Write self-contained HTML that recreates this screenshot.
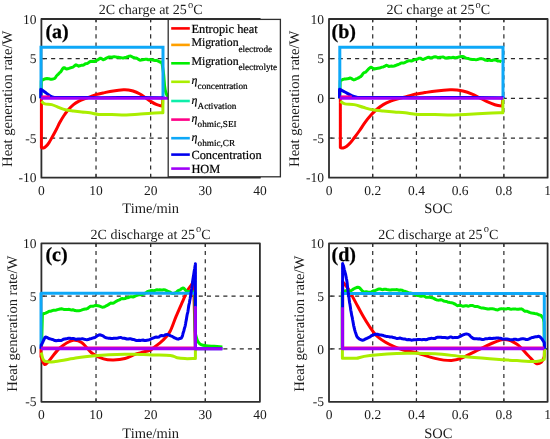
<!DOCTYPE html>
<html><head><meta charset="utf-8"><style>
html,body{margin:0;padding:0;background:#fff;}
svg{display:block;will-change:transform;}
.lg text{fill:#000;stroke:#000;stroke-width:0.2;}
text{font-family:"Liberation Serif", serif;fill:#1c1c1c;text-rendering:geometricPrecision;}
</style></head><body>
<svg width="550" height="439" viewBox="0 0 550 439">
<defs><filter id="bl" x="0" y="0" width="100%" height="100%"><feGaussianBlur stdDeviation="0.35"/></filter></defs>
<g filter="url(#bl)">
<rect width="550" height="439" fill="#fff"/>
<line x1="96.02499999999999" y1="19" x2="96.02499999999999" y2="177.7" stroke="#2a2a2a" stroke-width="1.2" stroke-dasharray="4.1 4.1" stroke-dashoffset="1.1"/>
<line x1="150.64999999999998" y1="19" x2="150.64999999999998" y2="177.7" stroke="#2a2a2a" stroke-width="1.2" stroke-dasharray="4.1 4.1" stroke-dashoffset="1.1"/>
<line x1="205.27499999999998" y1="19" x2="205.27499999999998" y2="177.7" stroke="#2a2a2a" stroke-width="1.2" stroke-dasharray="4.1 4.1" stroke-dashoffset="1.1"/>
<line x1="41.4" y1="58.675" x2="259.9" y2="58.675" stroke="#2a2a2a" stroke-width="1.2" stroke-dasharray="4.1 4.1" stroke-dashoffset="6.7"/>
<line x1="41.4" y1="98.35" x2="259.9" y2="98.35" stroke="#2a2a2a" stroke-width="1.2" stroke-dasharray="4.1 4.1" stroke-dashoffset="6.7"/>
<line x1="41.4" y1="138.02499999999998" x2="259.9" y2="138.02499999999998" stroke="#2a2a2a" stroke-width="1.2" stroke-dasharray="4.1 4.1" stroke-dashoffset="6.7"/>
<line x1="96.02499999999999" y1="177.7" x2="96.02499999999999" y2="174.2" stroke="#2e2e2e" stroke-width="1"/>
<line x1="96.02499999999999" y1="19" x2="96.02499999999999" y2="22.5" stroke="#2e2e2e" stroke-width="1"/>
<line x1="150.64999999999998" y1="177.7" x2="150.64999999999998" y2="174.2" stroke="#2e2e2e" stroke-width="1"/>
<line x1="150.64999999999998" y1="19" x2="150.64999999999998" y2="22.5" stroke="#2e2e2e" stroke-width="1"/>
<line x1="205.27499999999998" y1="177.7" x2="205.27499999999998" y2="174.2" stroke="#2e2e2e" stroke-width="1"/>
<line x1="205.27499999999998" y1="19" x2="205.27499999999998" y2="22.5" stroke="#2e2e2e" stroke-width="1"/>
<line x1="41.4" y1="58.675" x2="44.9" y2="58.675" stroke="#2e2e2e" stroke-width="1"/>
<line x1="259.9" y1="58.675" x2="256.4" y2="58.675" stroke="#2e2e2e" stroke-width="1"/>
<line x1="41.4" y1="98.35" x2="44.9" y2="98.35" stroke="#2e2e2e" stroke-width="1"/>
<line x1="259.9" y1="98.35" x2="256.4" y2="98.35" stroke="#2e2e2e" stroke-width="1"/>
<line x1="41.4" y1="138.02499999999998" x2="44.9" y2="138.02499999999998" stroke="#2e2e2e" stroke-width="1"/>
<line x1="259.9" y1="138.02499999999998" x2="256.4" y2="138.02499999999998" stroke="#2e2e2e" stroke-width="1"/>
<text x="41.4" y="195.29999999999998" text-anchor="middle" font-size="13.5">0</text>
<text x="96.02499999999999" y="195.29999999999998" text-anchor="middle" font-size="13.5">10</text>
<text x="150.64999999999998" y="195.29999999999998" text-anchor="middle" font-size="13.5">20</text>
<text x="205.27499999999998" y="195.29999999999998" text-anchor="middle" font-size="13.5">30</text>
<text x="259.9" y="195.29999999999998" text-anchor="middle" font-size="13.5">40</text>
<text x="36.4" y="23.6" text-anchor="end" font-size="13.5">10</text>
<text x="36.4" y="63.275" text-anchor="end" font-size="13.5">5</text>
<text x="36.4" y="102.94999999999999" text-anchor="end" font-size="13.5">0</text>
<text x="36.4" y="142.62499999999997" text-anchor="end" font-size="13.5">-5</text>
<text x="36.4" y="182.29999999999998" text-anchor="end" font-size="13.5">-10</text>
<text x="150.64999999999998" y="14.2" text-anchor="middle" font-size="14">2C charge at 25<tspan dx="1.2" dy="-6.3" font-size="10.5">o</tspan><tspan dy="6.3">C</tspan></text>
<text x="150.64999999999998" y="213.39999999999998" text-anchor="middle" font-size="14.5">Time/min</text>
<text transform="translate(11.5,98.85) rotate(-90)" x="0" y="0" text-anchor="middle" font-size="14.6">Heat generation rate/W</text>
<text x="45.4" y="38.0" font-size="20" font-weight="bold" style="fill:#000;stroke:#000;stroke-width:0.25">(a)</text>
<rect x="41.4" y="19" width="218.49999999999997" height="158.7" fill="none" stroke="#2e2e2e" stroke-width="1.8" stroke-linejoin="round"/>
<path d="M41.40,98.20 L41.40,147.60 L41.40,147.60 C41.75,147.67 42.70,148.23 43.50,148.00 C44.30,147.77 45.30,147.07 46.20,146.20 C47.10,145.33 47.98,144.17 48.90,142.80 C49.82,141.43 50.55,140.05 51.70,138.00 C52.85,135.95 54.43,133.12 55.80,130.50 C57.17,127.88 58.53,124.80 59.90,122.30 C61.27,119.80 62.63,117.55 64.00,115.50 C65.37,113.45 66.52,111.82 68.10,110.00 C69.68,108.18 71.68,106.07 73.50,104.60 C75.32,103.13 76.95,102.23 79.00,101.20 C81.05,100.17 83.97,99.12 85.80,98.40 C87.63,97.68 88.33,97.53 90.00,96.90 C91.67,96.27 93.38,95.32 95.80,94.60 C98.22,93.88 101.58,93.22 104.50,92.60 C107.42,91.98 110.13,91.37 113.30,90.90 C116.47,90.43 120.97,89.95 123.50,89.80 C126.03,89.65 126.92,89.80 128.50,90.00 C130.08,90.20 131.17,90.37 133.00,91.00 C134.83,91.63 137.45,92.70 139.50,93.80 C141.55,94.90 143.37,96.30 145.30,97.60 C147.23,98.90 149.17,100.42 151.10,101.60 C153.03,102.78 155.20,103.98 156.90,104.70 C158.60,105.42 160.57,105.70 161.30,105.90 L161.30,105.90 L162.50,106.00 L162.70,98.20" fill="none" stroke="#ff0000" stroke-width="3.0" stroke-linejoin="round" stroke-linecap="butt" />
<path d="M41.00,98.20 L41.30,81.00 L41.30,81.00 L41.30,80.77 L42.20,80.28 L43.71,79.35 L45.50,78.76 L47.13,78.52 L48.70,78.64 L50.13,79.23 L51.50,79.25 L52.82,78.99 L54.20,78.66 L54.97,78.12 L55.78,77.04 L56.63,75.74 L57.50,74.93 L58.43,74.08 L59.41,72.92 L60.38,72.18 L61.30,71.05 L62.45,68.98 L63.53,67.70 L64.50,67.72 L65.49,68.64 L66.70,69.06 L67.75,68.69 L69.01,68.40 L70.35,67.86 L71.60,67.51 L72.77,67.17 L73.94,66.36 L75.03,65.38 L76.00,64.81 L77.32,65.40 L78.70,66.14 L79.81,65.75 L81.11,65.35 L82.44,65.30 L83.60,64.97 L84.78,64.17 L85.78,63.63 L86.90,63.56 L88.29,62.92 L89.80,61.73 L91.30,61.28 L92.72,61.42 L94.13,61.47 L95.60,61.05 L96.83,60.30 L98.15,59.62 L99.42,58.81 L100.50,58.14 L101.82,58.82 L103.20,59.74 L104.29,59.43 L105.56,58.65 L106.99,57.78 L108.60,57.01 L109.85,57.01 L111.28,57.28 L112.78,56.95 L114.27,56.64 L115.64,56.89 L116.80,57.18 L118.42,57.33 L119.58,57.49 L120.90,57.69 L122.18,57.89 L123.57,57.92 L125.00,57.58 L126.40,57.21 L127.79,56.79 L129.19,56.13 L130.54,56.00 L131.80,56.70 L133.26,57.46 L134.58,57.82 L135.90,58.00 L137.17,58.41 L138.43,59.35 L140.00,60.16 L141.21,60.09 L142.59,59.83 L144.04,59.58 L145.48,59.16 L146.80,59.30 L148.27,59.77 L149.64,59.79 L150.96,59.67 L152.30,59.80 L153.69,60.31 L155.09,60.53 L156.44,60.37 L157.70,60.88 L159.31,61.73 L160.79,62.24 L161.80,62.00 L161.80,62.00 C162.10,64.00 163.13,70.00 163.60,74.00 C164.07,78.00 164.20,82.83 164.60,86.00 C165.00,89.17 165.43,91.25 166.00,93.00 C166.57,94.75 167.33,95.70 168.00,96.50 C168.67,97.30 169.67,97.58 170.00,97.80" fill="none" stroke="#00ee00" stroke-width="3.0" stroke-linejoin="round" stroke-linecap="butt" />
<path d="M41.40,101.20 C41.97,101.65 43.08,103.33 44.80,103.90 C46.52,104.47 49.42,104.03 51.70,104.60 C53.98,105.17 56.23,106.43 58.50,107.30 C60.77,108.17 62.80,109.17 65.30,109.80 C67.80,110.43 70.77,110.72 73.50,111.10 C76.23,111.48 78.97,111.82 81.70,112.10 C84.43,112.38 87.07,112.42 89.90,112.80 C92.73,113.18 95.05,114.10 98.70,114.40 C102.35,114.70 107.18,114.52 111.80,114.60 C116.42,114.68 122.03,114.97 126.40,114.90 C130.77,114.83 133.88,114.48 138.00,114.20 C142.12,113.92 147.10,113.45 151.10,113.20 C155.10,112.95 160.18,112.78 162.00,112.70 L162.00,112.70 L162.90,112.70 L162.90,98.20" fill="none" stroke="#aaee00" stroke-width="3.0" stroke-linejoin="round" stroke-linecap="butt" />
<path d="M41.00,98.20 L41.00,47.30 L163.00,47.30 L163.00,98.20" fill="none" stroke="#10a8f8" stroke-width="3.0" stroke-linejoin="round" stroke-linecap="butt" stroke-miterlimit="10" style="stroke-linejoin:miter"/>
<path d="M40.80,98.20 L40.80,89.20 L40.80,89.20 C41.47,89.67 43.22,90.87 44.80,92.00 C46.38,93.13 48.70,95.10 50.30,96.00 C51.90,96.90 52.78,97.13 54.40,97.40 C56.02,97.67 55.73,97.58 60.00,97.60 C64.27,97.62 73.33,97.48 80.00,97.50 C86.67,97.52 91.67,97.70 100.00,97.70 C108.33,97.70 120.00,97.50 130.00,97.50 C140.00,97.50 154.50,97.65 160.00,97.70 C165.50,97.75 162.50,97.78 163.00,97.80" fill="none" stroke="#0000ee" stroke-width="3.0" stroke-linejoin="round" stroke-linecap="butt" />
<path d="M41.50,96.60 L50.00,96.60" fill="none" stroke="#ff0088" stroke-width="2.4" stroke-linejoin="round" stroke-linecap="butt" />
<path d="M41.00,98.20 L169.00,98.20" fill="none" stroke="#a000f8" stroke-width="3" stroke-linejoin="round" stroke-linecap="butt" />
<line x1="372.72" y1="19" x2="372.72" y2="177.7" stroke="#2a2a2a" stroke-width="1.2" stroke-dasharray="4.1 4.1" stroke-dashoffset="1.1"/>
<line x1="416.44" y1="19" x2="416.44" y2="177.7" stroke="#2a2a2a" stroke-width="1.2" stroke-dasharray="4.1 4.1" stroke-dashoffset="1.1"/>
<line x1="460.16" y1="19" x2="460.16" y2="177.7" stroke="#2a2a2a" stroke-width="1.2" stroke-dasharray="4.1 4.1" stroke-dashoffset="1.1"/>
<line x1="503.88" y1="19" x2="503.88" y2="177.7" stroke="#2a2a2a" stroke-width="1.2" stroke-dasharray="4.1 4.1" stroke-dashoffset="1.1"/>
<line x1="329.0" y1="58.675" x2="547.6" y2="58.675" stroke="#2a2a2a" stroke-width="1.2" stroke-dasharray="4.1 4.1" stroke-dashoffset="6.7"/>
<line x1="329.0" y1="98.35" x2="547.6" y2="98.35" stroke="#2a2a2a" stroke-width="1.2" stroke-dasharray="4.1 4.1" stroke-dashoffset="6.7"/>
<line x1="329.0" y1="138.02499999999998" x2="547.6" y2="138.02499999999998" stroke="#2a2a2a" stroke-width="1.2" stroke-dasharray="4.1 4.1" stroke-dashoffset="6.7"/>
<line x1="372.72" y1="177.7" x2="372.72" y2="174.2" stroke="#2e2e2e" stroke-width="1"/>
<line x1="372.72" y1="19" x2="372.72" y2="22.5" stroke="#2e2e2e" stroke-width="1"/>
<line x1="416.44" y1="177.7" x2="416.44" y2="174.2" stroke="#2e2e2e" stroke-width="1"/>
<line x1="416.44" y1="19" x2="416.44" y2="22.5" stroke="#2e2e2e" stroke-width="1"/>
<line x1="460.16" y1="177.7" x2="460.16" y2="174.2" stroke="#2e2e2e" stroke-width="1"/>
<line x1="460.16" y1="19" x2="460.16" y2="22.5" stroke="#2e2e2e" stroke-width="1"/>
<line x1="503.88" y1="177.7" x2="503.88" y2="174.2" stroke="#2e2e2e" stroke-width="1"/>
<line x1="503.88" y1="19" x2="503.88" y2="22.5" stroke="#2e2e2e" stroke-width="1"/>
<line x1="329.0" y1="58.675" x2="332.5" y2="58.675" stroke="#2e2e2e" stroke-width="1"/>
<line x1="547.6" y1="58.675" x2="544.1" y2="58.675" stroke="#2e2e2e" stroke-width="1"/>
<line x1="329.0" y1="98.35" x2="332.5" y2="98.35" stroke="#2e2e2e" stroke-width="1"/>
<line x1="547.6" y1="98.35" x2="544.1" y2="98.35" stroke="#2e2e2e" stroke-width="1"/>
<line x1="329.0" y1="138.02499999999998" x2="332.5" y2="138.02499999999998" stroke="#2e2e2e" stroke-width="1"/>
<line x1="547.6" y1="138.02499999999998" x2="544.1" y2="138.02499999999998" stroke="#2e2e2e" stroke-width="1"/>
<text x="329.0" y="195.29999999999998" text-anchor="middle" font-size="13.5">0</text>
<text x="372.72" y="195.29999999999998" text-anchor="middle" font-size="13.5">0.2</text>
<text x="416.44" y="195.29999999999998" text-anchor="middle" font-size="13.5">0.4</text>
<text x="460.16" y="195.29999999999998" text-anchor="middle" font-size="13.5">0.6</text>
<text x="503.88" y="195.29999999999998" text-anchor="middle" font-size="13.5">0.8</text>
<text x="547.6" y="195.29999999999998" text-anchor="middle" font-size="13.5">1</text>
<text x="324.0" y="23.6" text-anchor="end" font-size="13.5">10</text>
<text x="324.0" y="63.275" text-anchor="end" font-size="13.5">5</text>
<text x="324.0" y="102.94999999999999" text-anchor="end" font-size="13.5">0</text>
<text x="324.0" y="142.62499999999997" text-anchor="end" font-size="13.5">-5</text>
<text x="324.0" y="182.29999999999998" text-anchor="end" font-size="13.5">-10</text>
<text x="438.3" y="14.2" text-anchor="middle" font-size="14">2C charge at 25<tspan dx="1.2" dy="-6.3" font-size="10.5">o</tspan><tspan dy="6.3">C</tspan></text>
<text x="438.3" y="213.39999999999998" text-anchor="middle" font-size="14.5">SOC</text>
<text transform="translate(299.1,98.85) rotate(-90)" x="0" y="0" text-anchor="middle" font-size="14.6">Heat generation rate/W</text>
<text x="331.5" y="38.0" font-size="20" font-weight="bold" style="fill:#000;stroke:#000;stroke-width:0.25">(b)</text>
<rect x="329.0" y="19" width="218.60000000000002" height="158.7" fill="none" stroke="#2e2e2e" stroke-width="1.8" stroke-linejoin="round"/>
<path d="M340.34,98.20 L340.34,147.60 L340.34,147.60 C340.80,147.67 342.07,148.23 343.14,148.00 C344.21,147.77 345.55,147.07 346.76,146.20 C347.96,145.33 349.14,144.17 350.37,142.80 C351.59,141.43 352.58,140.05 354.11,138.00 C355.65,135.95 357.77,133.12 359.60,130.50 C361.43,127.88 363.25,124.80 365.08,122.30 C366.91,119.80 368.74,117.55 370.57,115.50 C372.40,113.45 373.93,111.82 376.05,110.00 C378.17,108.18 380.85,106.07 383.28,104.60 C385.71,103.13 387.89,102.23 390.63,101.20 C393.38,100.17 397.28,99.12 399.73,98.40 C402.18,97.68 403.12,97.53 405.35,96.90 C407.58,96.27 409.87,95.32 413.11,94.60 C416.34,93.88 420.84,93.22 424.74,92.60 C428.65,91.98 432.28,91.37 436.52,90.90 C440.75,90.43 446.77,89.95 450.16,89.80 C453.55,89.65 454.73,89.80 456.85,90.00 C458.97,90.20 460.42,90.37 462.87,91.00 C465.32,91.63 468.82,92.70 471.56,93.80 C474.31,94.90 476.74,96.30 479.32,97.60 C481.91,98.90 484.50,100.42 487.08,101.60 C489.67,102.78 492.57,103.98 494.84,104.70 C497.11,105.42 499.74,105.70 500.73,105.90 L500.73,105.90 L502.33,106.00 L502.60,98.20" fill="none" stroke="#ff0000" stroke-width="3.0" stroke-linejoin="round" stroke-linecap="butt" />
<path d="M339.80,98.20 L340.20,81.00 L340.20,81.00 L340.20,80.77 L341.41,80.28 L342.64,79.55 L344.24,79.11 L345.82,78.92 L347.28,78.87 L348.72,78.56 L350.10,77.95 L351.39,78.33 L352.63,79.44 L353.85,79.91 L355.03,79.58 L356.20,78.88 L357.46,78.43 L358.49,77.97 L359.57,77.11 L360.70,76.55 L361.87,75.45 L362.86,73.80 L363.90,72.72 L364.95,72.42 L365.98,71.87 L366.96,70.66 L368.11,69.40 L369.23,68.43 L370.28,67.52 L371.24,67.21 L372.57,68.10 L374.18,68.95 L375.27,68.70 L376.57,68.43 L377.99,68.28 L379.41,68.10 L380.73,67.58 L381.99,67.13 L383.25,66.97 L384.46,66.45 L385.60,65.63 L386.62,65.30 L387.88,65.95 L388.89,66.47 L390.23,66.15 L391.39,66.02 L392.74,66.14 L394.18,65.99 L395.57,65.53 L396.79,64.97 L398.36,64.50 L399.70,63.84 L401.20,63.04 L402.29,62.93 L403.46,62.97 L404.67,62.58 L405.89,61.98 L407.09,61.37 L408.52,60.77 L409.92,60.79 L411.35,61.03 L412.84,60.51 L414.15,59.85 L415.54,59.57 L416.94,59.27 L418.26,58.68 L419.39,58.14 L420.68,58.27 L421.64,59.05 L423.01,59.46 L423.96,59.16 L425.01,58.70 L426.16,58.18 L427.41,57.45 L428.77,57.22 L430.23,57.70 L431.31,57.95 L432.52,57.52 L433.81,56.96 L435.15,56.73 L436.49,57.07 L437.81,57.50 L439.06,57.39 L440.20,57.21 L441.20,57.12 L442.91,56.98 L444.17,57.44 L445.31,58.09 L446.68,58.06 L447.80,57.70 L449.00,57.54 L450.25,57.80 L451.53,57.75 L452.80,57.31 L454.04,57.48 L455.27,57.74 L456.52,57.56 L457.77,57.29 L458.99,56.99 L460.16,56.68 L461.26,56.53 L462.76,56.52 L464.11,56.95 L465.42,57.90 L466.75,58.29 L468.03,58.38 L469.26,58.89 L470.61,59.31 L472.23,59.40 L473.36,59.44 L474.62,59.60 L475.97,59.67 L477.36,59.52 L478.75,59.08 L480.09,58.64 L481.33,58.60 L482.66,58.89 L483.92,59.47 L485.12,60.03 L486.31,60.26 L487.49,60.40 L488.69,60.31 L489.92,60.19 L491.17,60.49 L492.42,60.44 L493.64,59.91 L494.81,59.71 L495.91,60.16 L497.53,60.91 L499.10,61.11 L500.45,61.34 L501.39,62.00" fill="none" stroke="#00ee00" stroke-width="3.0" stroke-linejoin="round" stroke-linecap="butt" />
<path d="M340.34,101.20 C341.09,101.65 342.59,103.33 344.88,103.90 C347.18,104.47 351.06,104.03 354.11,104.60 C357.17,105.17 360.18,106.43 363.21,107.30 C366.24,108.17 368.96,109.17 372.31,109.80 C375.65,110.43 379.62,110.72 383.28,111.10 C386.93,111.48 390.59,111.82 394.24,112.10 C397.90,112.38 401.42,112.42 405.21,112.80 C409.00,113.18 412.10,114.10 416.99,114.40 C421.87,114.70 428.33,114.52 434.51,114.60 C440.69,114.68 448.20,114.97 454.04,114.90 C459.88,114.83 464.05,114.48 469.56,114.20 C475.06,113.92 481.73,113.45 487.08,113.20 C492.43,112.95 499.23,112.78 501.66,112.70 L501.66,112.70 L502.87,112.70 L502.87,98.20" fill="none" stroke="#aaee00" stroke-width="3.0" stroke-linejoin="round" stroke-linecap="butt" />
<path d="M339.80,98.20 L339.80,47.30 L503.00,47.30 L503.00,98.20" fill="none" stroke="#10a8f8" stroke-width="3.0" stroke-linejoin="round" stroke-linecap="butt" stroke-miterlimit="10" style="stroke-linejoin:miter"/>
<path d="M339.53,98.20 L339.53,89.20 L339.53,89.20 C340.42,89.67 342.77,90.87 344.88,92.00 C347.00,93.13 350.10,95.10 352.24,96.00 C354.38,96.90 355.56,97.13 357.73,97.40 C359.89,97.67 359.51,97.58 365.22,97.60 C370.92,97.62 383.05,97.48 391.97,97.50 C400.89,97.52 407.58,97.70 418.72,97.70 C429.87,97.70 445.48,97.50 458.86,97.50 C472.23,97.50 491.63,97.65 498.99,97.70 C506.34,97.75 502.33,97.78 503.00,97.80" fill="none" stroke="#0000ee" stroke-width="3.0" stroke-linejoin="round" stroke-linecap="butt" />
<path d="M340.47,96.60 L351.84,96.60" fill="none" stroke="#ff0088" stroke-width="2.4" stroke-linejoin="round" stroke-linecap="butt" />
<path d="M339.80,98.20 L503.00,98.20" fill="none" stroke="#a000f8" stroke-width="3" stroke-linejoin="round" stroke-linecap="butt" />
<line x1="96.02499999999999" y1="243.3" x2="96.02499999999999" y2="401.8" stroke="#2a2a2a" stroke-width="1.2" stroke-dasharray="4.1 4.1" stroke-dashoffset="0.5"/>
<line x1="150.64999999999998" y1="243.3" x2="150.64999999999998" y2="401.8" stroke="#2a2a2a" stroke-width="1.2" stroke-dasharray="4.1 4.1" stroke-dashoffset="0.5"/>
<line x1="205.27499999999998" y1="243.3" x2="205.27499999999998" y2="401.8" stroke="#2a2a2a" stroke-width="1.2" stroke-dasharray="4.1 4.1" stroke-dashoffset="0.5"/>
<line x1="41.4" y1="296.1333333333333" x2="259.9" y2="296.1333333333333" stroke="#2a2a2a" stroke-width="1.2" stroke-dasharray="4.1 4.1" stroke-dashoffset="6.7"/>
<line x1="41.4" y1="348.9666666666667" x2="259.9" y2="348.9666666666667" stroke="#2a2a2a" stroke-width="1.2" stroke-dasharray="4.1 4.1" stroke-dashoffset="6.7"/>
<line x1="96.02499999999999" y1="401.8" x2="96.02499999999999" y2="398.3" stroke="#2e2e2e" stroke-width="1"/>
<line x1="96.02499999999999" y1="243.3" x2="96.02499999999999" y2="246.8" stroke="#2e2e2e" stroke-width="1"/>
<line x1="150.64999999999998" y1="401.8" x2="150.64999999999998" y2="398.3" stroke="#2e2e2e" stroke-width="1"/>
<line x1="150.64999999999998" y1="243.3" x2="150.64999999999998" y2="246.8" stroke="#2e2e2e" stroke-width="1"/>
<line x1="205.27499999999998" y1="401.8" x2="205.27499999999998" y2="398.3" stroke="#2e2e2e" stroke-width="1"/>
<line x1="205.27499999999998" y1="243.3" x2="205.27499999999998" y2="246.8" stroke="#2e2e2e" stroke-width="1"/>
<line x1="41.4" y1="296.1333333333333" x2="44.9" y2="296.1333333333333" stroke="#2e2e2e" stroke-width="1"/>
<line x1="259.9" y1="296.1333333333333" x2="256.4" y2="296.1333333333333" stroke="#2e2e2e" stroke-width="1"/>
<line x1="41.4" y1="348.9666666666667" x2="44.9" y2="348.9666666666667" stroke="#2e2e2e" stroke-width="1"/>
<line x1="259.9" y1="348.9666666666667" x2="256.4" y2="348.9666666666667" stroke="#2e2e2e" stroke-width="1"/>
<text x="41.4" y="419.40000000000003" text-anchor="middle" font-size="13.5">0</text>
<text x="96.02499999999999" y="419.40000000000003" text-anchor="middle" font-size="13.5">10</text>
<text x="150.64999999999998" y="419.40000000000003" text-anchor="middle" font-size="13.5">20</text>
<text x="205.27499999999998" y="419.40000000000003" text-anchor="middle" font-size="13.5">30</text>
<text x="259.9" y="419.40000000000003" text-anchor="middle" font-size="13.5">40</text>
<text x="36.4" y="247.9" text-anchor="end" font-size="13.5">10</text>
<text x="36.4" y="300.73333333333335" text-anchor="end" font-size="13.5">5</text>
<text x="36.4" y="353.5666666666667" text-anchor="end" font-size="13.5">0</text>
<text x="36.4" y="406.40000000000003" text-anchor="end" font-size="13.5">-5</text>
<text x="150.64999999999998" y="238.5" text-anchor="middle" font-size="14">2C discharge at 25<tspan dx="1.2" dy="-6.3" font-size="10.5">o</tspan><tspan dy="6.3">C</tspan></text>
<text x="150.64999999999998" y="437.5" text-anchor="middle" font-size="14.5">Time/min</text>
<text transform="translate(16.8,323.75) rotate(-90)" x="0" y="0" text-anchor="middle" font-size="14.6">Heat generation rate/W</text>
<text x="45.4" y="260.8" font-size="20" font-weight="bold" style="fill:#000;stroke:#000;stroke-width:0.25">(c)</text>
<rect x="41.4" y="243.3" width="218.49999999999997" height="158.5" fill="none" stroke="#2e2e2e" stroke-width="1.8" stroke-linejoin="round"/>
<path d="M41.00,348.80 L41.00,356.70 L41.00,356.70 C41.58,357.98 43.18,363.68 44.50,364.40 C45.82,365.12 46.35,363.73 48.90,361.00 C51.45,358.27 55.80,351.43 59.80,348.00 C63.80,344.57 69.27,341.32 72.90,340.40 C76.53,339.48 78.33,340.32 81.60,342.50 C84.87,344.68 88.85,350.77 92.50,353.50 C96.15,356.23 100.00,357.82 103.50,358.90 C107.00,359.98 109.92,360.07 113.50,360.00 C117.08,359.93 121.42,359.45 125.00,358.50 C128.58,357.55 132.33,355.28 135.00,354.30 C137.67,353.32 138.53,353.27 141.00,352.60 C143.47,351.93 147.77,351.07 149.80,350.30 C151.83,349.53 151.50,349.23 153.20,348.00 C154.90,346.77 157.90,344.70 160.00,342.90 C162.10,341.10 164.08,339.18 165.80,337.20 C167.52,335.22 168.58,334.47 170.30,331.00 C172.02,327.53 174.10,321.22 176.10,316.40 C178.10,311.58 180.42,306.37 182.30,302.10 C184.18,297.83 185.87,293.70 187.40,290.80 C188.93,287.90 190.47,286.42 191.50,284.70 C192.53,282.98 193.25,281.20 193.60,280.50 L193.60,280.50 L195.40,348.80" fill="none" stroke="#ff0000" stroke-width="3.0" stroke-linejoin="round" stroke-linecap="butt" />
<path d="M41.50,348.80 L42.40,314.20 L42.40,314.20 L43.19,313.78 L44.28,313.46 L45.60,313.13 L47.09,312.48 L48.70,311.45 L49.79,311.17 L50.98,311.22 L52.24,310.63 L53.56,310.26 L54.90,310.29 L56.26,309.96 L57.60,309.59 L58.90,309.29 L60.19,308.95 L61.52,308.76 L62.85,309.11 L64.18,309.46 L65.49,309.46 L66.75,309.59 L67.96,309.47 L69.10,309.30 L70.45,309.75 L71.64,310.01 L72.76,309.81 L73.87,310.03 L75.05,310.61 L76.40,310.74 L77.54,310.75 L78.76,310.75 L80.04,310.53 L81.36,310.12 L82.68,309.61 L84.00,309.25 L85.28,309.00 L86.50,308.94 L87.84,308.35 L89.16,307.15 L90.45,306.35 L91.71,306.27 L92.94,306.30 L94.14,305.90 L95.30,305.50 L96.61,305.42 L97.87,305.67 L99.08,306.03 L100.26,306.45 L101.39,306.91 L102.50,307.20 L103.76,307.06 L104.95,306.55 L106.10,305.93 L107.23,305.33 L108.40,304.68 L109.60,303.77 L110.81,303.10 L112.02,303.17 L113.22,303.18 L114.40,302.60 L115.53,301.86 L116.63,301.09 L117.72,300.44 L118.84,300.15 L120.00,299.62 L121.20,298.77 L122.42,298.46 L123.68,298.84 L125.00,298.62 L126.40,297.89 L127.65,297.69 L128.97,297.30 L130.34,296.71 L131.73,296.68 L133.12,296.94 L134.50,296.55 L135.68,295.80 L136.88,295.34 L138.09,295.03 L139.29,294.83 L140.47,294.65 L141.61,294.64 L142.70,294.41 L144.12,293.74 L145.46,293.13 L146.74,292.11 L148.01,291.36 L149.30,291.09 L150.60,290.61 L151.90,290.42 L153.20,290.63 L154.50,290.57 L155.80,290.03 L157.12,289.84 L158.44,289.97 L159.76,289.83 L161.08,289.93 L162.40,289.91 L163.73,289.65 L165.08,289.90 L166.42,290.52 L167.70,291.14 L168.90,291.58 L170.24,292.14 L171.45,292.98 L172.61,293.61 L173.80,293.47 L175.04,292.96 L176.30,292.22 L177.53,291.06 L178.70,290.42 L180.13,289.81 L181.46,288.72 L182.80,287.93 L183.81,288.15 L184.80,289.34 L185.82,290.49 L186.90,291.06 L188.12,291.57 L189.44,291.54 L190.71,291.16 L191.80,291.30 L193.46,291.81 L194.50,292.00 L194.50,292.00 C194.58,293.33 194.88,293.67 195.00,300.00 C195.12,306.33 194.93,323.67 195.20,330.00 C195.47,336.33 196.08,335.97 196.60,338.00 C197.12,340.03 197.57,341.10 198.30,342.20 C199.03,343.30 199.72,344.02 201.00,344.60 C202.28,345.18 203.83,345.42 206.00,345.70 C208.17,345.98 211.27,346.10 214.00,346.30 C216.73,346.50 221.00,346.80 222.40,346.90" fill="none" stroke="#00ee00" stroke-width="3.0" stroke-linejoin="round" stroke-linecap="butt" />
<path d="M41.30,352.40 C41.83,353.83 42.13,359.48 44.50,361.00 C46.87,362.52 50.03,362.03 55.50,361.50 C60.97,360.97 70.72,358.75 77.30,357.80 C83.88,356.85 89.72,356.30 95.00,355.80 C100.28,355.30 104.00,355.07 109.00,354.80 C114.00,354.53 120.67,354.30 125.00,354.20 C129.33,354.10 130.48,354.08 135.00,354.20 C139.52,354.32 146.22,354.70 152.10,354.90 C157.98,355.10 166.13,354.93 170.30,355.40 C174.47,355.87 174.65,357.17 177.10,357.70 C179.55,358.23 182.12,358.47 185.00,358.60 C187.88,358.73 192.83,358.52 194.40,358.50 L194.40,358.50 L195.40,358.50 L195.40,348.80" fill="none" stroke="#aaee00" stroke-width="3.0" stroke-linejoin="round" stroke-linecap="butt" />
<path d="M41.00,348.80 L41.00,293.30 L195.40,293.30 L195.40,348.80" fill="none" stroke="#10a8f8" stroke-width="3.0" stroke-linejoin="round" stroke-linecap="butt" />
<path d="M41.00,348.80 L41.30,344.70 L41.30,344.70 L41.68,344.33 L42.18,343.37 L42.78,342.10 L43.45,340.68 L44.16,339.05 L44.89,337.49 L45.60,337.06 L46.87,337.42 L48.21,338.13 L49.63,338.81 L51.10,339.12 L52.30,339.42 L53.52,339.98 L54.79,340.58 L56.14,340.78 L57.60,340.47 L58.68,340.30 L59.76,340.45 L60.87,340.61 L62.06,340.07 L63.35,339.33 L64.79,338.98 L66.40,338.66 L67.46,338.50 L68.61,338.17 L69.85,338.20 L71.15,338.62 L72.50,338.42 L73.87,338.49 L75.25,339.16 L76.61,339.18 L77.95,338.93 L79.24,339.11 L80.46,339.12 L81.60,338.84 L83.02,338.83 L84.37,339.22 L85.67,339.52 L86.91,339.70 L88.11,339.54 L89.26,339.02 L90.38,338.70 L91.45,338.45 L92.50,338.14 L93.77,337.74 L94.94,337.43 L96.03,336.80 L97.07,335.95 L98.10,335.47 L99.13,334.96 L100.20,334.80 L101.36,335.26 L102.37,335.63 L103.39,336.12 L104.54,337.07 L105.96,337.73 L107.80,338.11 L108.76,338.31 L109.85,338.26 L111.04,338.55 L112.31,338.60 L113.64,338.23 L115.02,338.33 L116.42,338.35 L117.83,338.05 L119.22,337.61 L120.58,337.41 L121.89,337.87 L123.12,338.27 L124.27,338.21 L125.30,338.49 L126.91,339.03 L128.37,339.03 L129.68,338.72 L130.89,338.77 L132.00,339.28 L133.04,339.52 L134.03,339.52 L135.00,339.98 L136.63,340.60 L137.89,340.51 L139.13,340.32 L140.70,340.41 L141.81,340.13 L143.02,340.04 L144.30,340.46 L145.64,340.48 L147.02,340.20 L148.41,340.09 L149.80,339.65 L151.04,338.97 L152.32,338.43 L153.64,337.84 L154.97,337.27 L156.29,337.07 L157.58,337.28 L158.82,337.02 L160.00,336.02 L161.51,335.55 L162.98,335.74 L164.39,335.33 L165.71,334.65 L166.92,334.42 L168.00,334.71 L169.61,335.30 L170.78,335.85 L172.00,336.31 L173.12,336.94 L174.31,337.80 L175.47,338.18 L176.50,338.74 L178.11,339.15 L179.50,338.52 L180.44,338.42 L181.36,338.02 L182.30,336.25 L182.62,335.09 L182.95,333.72 L183.28,332.49 L183.61,331.49 L183.95,330.46 L184.29,328.98 L184.62,327.69 L184.96,326.71 L185.30,325.36 L185.54,324.08 L185.77,322.55 L186.01,321.28 L186.25,320.19 L186.49,318.75 L186.72,317.25 L186.96,315.86 L187.20,314.47 L187.44,313.51 L187.68,312.82 L187.92,311.58 L188.16,309.86 L188.40,308.18 L188.61,306.69 L188.82,305.27 L189.04,304.32 L189.26,303.65 L189.47,302.46 L189.69,300.96 L189.91,299.83 L190.13,298.69 L190.34,297.33 L190.55,296.06 L190.75,294.71 L190.95,293.34 L191.14,292.09 L191.33,290.80 L191.50,289.81 L191.71,288.78 L191.90,287.35 L192.08,285.98 L192.25,285.01 L192.42,283.79 L192.57,282.15 L192.73,280.68 L192.88,279.63 L193.03,278.67 L193.19,277.71 L193.34,276.77 L193.50,275.83 L193.73,274.43 L193.97,272.77 L194.21,271.04 L194.46,269.65 L194.69,268.48 L194.91,267.07 L195.11,265.73 L195.27,264.98 L195.40,263.80 L195.40,263.80 L195.40,348.80 L222.40,348.80" fill="none" stroke="#0000ee" stroke-width="3.0" stroke-linejoin="round" stroke-linecap="butt" />
<path d="M41.50,347.80 L194.00,347.80" fill="none" stroke="#ff0088" stroke-width="2.4" stroke-linejoin="round" stroke-linecap="butt" />
<path d="M41.00,348.80 L195.40,348.80 L195.40,307.30 L195.40,348.80 L222.40,348.80" fill="none" stroke="#a000f8" stroke-width="3" stroke-linejoin="round" stroke-linecap="butt" />
<line x1="372.72" y1="243.3" x2="372.72" y2="401.8" stroke="#2a2a2a" stroke-width="1.2" stroke-dasharray="4.1 4.1" stroke-dashoffset="0.5"/>
<line x1="416.44" y1="243.3" x2="416.44" y2="401.8" stroke="#2a2a2a" stroke-width="1.2" stroke-dasharray="4.1 4.1" stroke-dashoffset="0.5"/>
<line x1="460.16" y1="243.3" x2="460.16" y2="401.8" stroke="#2a2a2a" stroke-width="1.2" stroke-dasharray="4.1 4.1" stroke-dashoffset="0.5"/>
<line x1="503.88" y1="243.3" x2="503.88" y2="401.8" stroke="#2a2a2a" stroke-width="1.2" stroke-dasharray="4.1 4.1" stroke-dashoffset="0.5"/>
<line x1="329.0" y1="296.1333333333333" x2="547.6" y2="296.1333333333333" stroke="#2a2a2a" stroke-width="1.2" stroke-dasharray="4.1 4.1" stroke-dashoffset="6.7"/>
<line x1="329.0" y1="348.9666666666667" x2="547.6" y2="348.9666666666667" stroke="#2a2a2a" stroke-width="1.2" stroke-dasharray="4.1 4.1" stroke-dashoffset="6.7"/>
<line x1="372.72" y1="401.8" x2="372.72" y2="398.3" stroke="#2e2e2e" stroke-width="1"/>
<line x1="372.72" y1="243.3" x2="372.72" y2="246.8" stroke="#2e2e2e" stroke-width="1"/>
<line x1="416.44" y1="401.8" x2="416.44" y2="398.3" stroke="#2e2e2e" stroke-width="1"/>
<line x1="416.44" y1="243.3" x2="416.44" y2="246.8" stroke="#2e2e2e" stroke-width="1"/>
<line x1="460.16" y1="401.8" x2="460.16" y2="398.3" stroke="#2e2e2e" stroke-width="1"/>
<line x1="460.16" y1="243.3" x2="460.16" y2="246.8" stroke="#2e2e2e" stroke-width="1"/>
<line x1="503.88" y1="401.8" x2="503.88" y2="398.3" stroke="#2e2e2e" stroke-width="1"/>
<line x1="503.88" y1="243.3" x2="503.88" y2="246.8" stroke="#2e2e2e" stroke-width="1"/>
<line x1="329.0" y1="296.1333333333333" x2="332.5" y2="296.1333333333333" stroke="#2e2e2e" stroke-width="1"/>
<line x1="547.6" y1="296.1333333333333" x2="544.1" y2="296.1333333333333" stroke="#2e2e2e" stroke-width="1"/>
<line x1="329.0" y1="348.9666666666667" x2="332.5" y2="348.9666666666667" stroke="#2e2e2e" stroke-width="1"/>
<line x1="547.6" y1="348.9666666666667" x2="544.1" y2="348.9666666666667" stroke="#2e2e2e" stroke-width="1"/>
<text x="329.0" y="419.40000000000003" text-anchor="middle" font-size="13.5">0</text>
<text x="372.72" y="419.40000000000003" text-anchor="middle" font-size="13.5">0.2</text>
<text x="416.44" y="419.40000000000003" text-anchor="middle" font-size="13.5">0.4</text>
<text x="460.16" y="419.40000000000003" text-anchor="middle" font-size="13.5">0.6</text>
<text x="503.88" y="419.40000000000003" text-anchor="middle" font-size="13.5">0.8</text>
<text x="547.6" y="419.40000000000003" text-anchor="middle" font-size="13.5">1</text>
<text x="324.0" y="247.9" text-anchor="end" font-size="13.5">10</text>
<text x="324.0" y="300.73333333333335" text-anchor="end" font-size="13.5">5</text>
<text x="324.0" y="353.5666666666667" text-anchor="end" font-size="13.5">0</text>
<text x="324.0" y="406.40000000000003" text-anchor="end" font-size="13.5">-5</text>
<text x="438.3" y="238.5" text-anchor="middle" font-size="14">2C discharge at 25<tspan dx="1.2" dy="-6.3" font-size="10.5">o</tspan><tspan dy="6.3">C</tspan></text>
<text x="438.3" y="437.5" text-anchor="middle" font-size="14.5">SOC</text>
<text transform="translate(304.40000000000003,323.75) rotate(-90)" x="0" y="0" text-anchor="middle" font-size="14.6">Heat generation rate/W</text>
<text x="331.5" y="260.8" font-size="20" font-weight="bold" style="fill:#000;stroke:#000;stroke-width:0.25">(d)</text>
<rect x="329.0" y="243.3" width="218.60000000000002" height="158.5" fill="none" stroke="#2e2e2e" stroke-width="1.8" stroke-linejoin="round"/>
<path d="M342.60,348.80 L342.60,281.60 L342.60,281.60 C343.62,282.93 346.55,286.18 348.70,289.60 C350.85,293.02 353.23,297.92 355.50,302.10 C357.77,306.28 360.02,310.72 362.30,314.70 C364.58,318.68 366.92,322.58 369.20,326.00 C371.48,329.42 373.35,332.53 376.00,335.20 C378.65,337.87 382.07,340.10 385.10,342.00 C388.13,343.90 391.17,345.27 394.20,346.60 C397.23,347.93 399.83,349.05 403.30,350.00 C406.77,350.95 409.72,350.90 415.00,352.30 C420.28,353.70 428.93,357.02 435.00,358.40 C441.07,359.78 446.85,360.68 451.40,360.60 C455.95,360.52 457.30,359.95 462.30,357.90 C467.30,355.85 474.57,351.35 481.40,348.30 C488.23,345.25 497.37,340.28 503.30,339.60 C509.23,338.92 512.90,341.60 517.00,344.20 C521.10,346.80 524.72,352.00 527.90,355.20 C531.08,358.40 533.83,362.27 536.10,363.40 C538.37,364.53 540.13,363.15 541.50,362.00 C542.87,360.85 543.83,357.42 544.30,356.50 L544.30,356.50 L544.50,348.80" fill="none" stroke="#ff0000" stroke-width="3.0" stroke-linejoin="round" stroke-linecap="butt" />
<path d="M342.20,348.80 L342.20,292.40 L342.20,292.40 L344.00,290.98 L344.90,290.91 L346.01,290.64 L347.27,290.44 L348.62,290.71 L350.00,290.97 L351.21,290.65 L352.50,289.73 L353.85,288.74 L355.21,288.09 L356.54,287.56 L357.80,287.23 L359.01,287.47 L360.19,288.48 L361.35,289.92 L362.47,290.99 L363.56,291.66 L364.60,291.87 L365.93,291.74 L367.06,291.85 L368.32,292.16 L370.00,292.23 L370.93,292.21 L371.95,291.66 L373.04,290.87 L374.19,290.65 L375.40,290.49 L376.65,289.87 L377.94,289.32 L379.26,289.01 L380.60,289.01 L381.74,289.50 L382.95,289.65 L384.21,289.23 L385.51,289.18 L386.83,289.53 L388.15,289.73 L389.46,289.94 L390.73,290.00 L391.96,289.74 L393.12,289.68 L394.20,289.82 L395.70,289.75 L397.02,289.59 L398.23,289.94 L399.38,290.25 L400.57,289.96 L401.85,290.12 L403.30,290.81 L404.33,291.14 L405.43,291.50 L406.58,291.86 L407.77,292.40 L408.98,292.98 L410.21,293.07 L411.43,293.23 L412.63,293.73 L413.81,294.24 L414.93,294.49 L416.00,294.88 L417.38,295.42 L418.69,295.62 L419.95,296.05 L421.17,296.34 L422.37,295.96 L423.56,295.85 L424.77,296.44 L426.00,297.17 L427.23,297.35 L428.44,297.22 L429.63,297.30 L430.83,297.56 L432.05,297.80 L433.31,298.10 L434.62,298.86 L436.00,299.65 L437.17,299.94 L438.40,300.13 L439.67,300.07 L440.97,299.72 L442.29,300.12 L443.62,301.06 L444.94,301.33 L446.23,301.47 L447.49,301.97 L448.70,302.35 L449.99,302.57 L451.24,302.63 L452.47,302.93 L453.67,303.51 L454.85,303.99 L456.03,304.83 L457.21,305.63 L458.40,305.55 L459.60,305.28 L460.80,305.39 L461.97,305.86 L463.13,306.27 L464.29,306.07 L465.46,305.64 L466.66,305.75 L467.89,306.15 L469.17,305.94 L470.50,305.50 L471.64,305.39 L472.82,305.53 L474.04,306.05 L475.28,306.53 L476.54,306.46 L477.82,306.56 L479.11,307.05 L480.40,307.60 L481.68,307.99 L482.95,307.92 L484.20,308.18 L485.42,308.58 L486.60,308.78 L487.76,309.06 L488.92,308.91 L490.07,308.69 L491.25,308.70 L492.45,308.73 L493.69,308.93 L494.99,309.32 L496.35,309.85 L497.80,309.97 L498.86,309.44 L499.97,308.94 L501.13,308.87 L502.34,308.87 L503.57,308.76 L504.84,308.95 L506.11,309.11 L507.40,308.60 L508.69,308.49 L509.96,308.98 L511.23,309.17 L512.46,309.07 L513.67,308.92 L514.83,308.99 L515.94,309.08 L517.00,309.14 L518.46,309.21 L519.85,309.01 L521.19,308.87 L522.47,309.42 L523.71,310.44 L524.92,311.16 L526.09,311.32 L527.24,311.34 L528.37,311.81 L529.49,312.37 L530.60,312.70 L531.98,313.02 L533.37,313.23 L534.74,313.54 L536.09,313.75 L537.38,314.00 L538.59,314.76 L539.69,315.07 L540.67,315.13 L541.50,316.04 L542.58,317.49 L543.22,318.40 L543.58,319.60 L543.79,321.07 L544.00,322.00 L544.00,322.00 L544.50,348.80" fill="none" stroke="#00ee00" stroke-width="3.0" stroke-linejoin="round" stroke-linecap="butt" />
<path d="M342.40,348.80 L342.40,358.20 L349.00,358.20 L356.90,358.30 L356.90,358.30 C359.08,357.82 361.65,356.23 370.00,355.40 C378.35,354.57 396.17,353.57 407.00,353.30 C417.83,353.03 425.78,353.27 435.00,353.80 C444.22,354.33 453.20,355.68 462.30,356.50 C471.40,357.32 480.48,358.02 489.60,358.70 C498.72,359.38 509.25,360.15 517.00,360.60 C524.75,361.05 531.55,361.62 536.10,361.40 C540.65,361.18 542.93,359.65 544.30,359.30 L544.30,359.30 L544.50,348.80" fill="none" stroke="#aaee00" stroke-width="3.0" stroke-linejoin="round" stroke-linecap="butt" />
<path d="M342.20,293.60 L544.30,293.60 L544.30,348.80" fill="none" stroke="#10a8f8" stroke-width="3.0" stroke-linejoin="round" stroke-linecap="butt" />
<path d="M342.60,348.80 L342.60,263.40 L342.60,263.40 L342.79,264.52 L343.03,264.99 L343.32,265.53 L343.64,266.63 L343.99,268.25 L344.36,269.83 L344.73,271.21 L345.10,272.59 L345.47,274.00 L345.81,275.42 L346.12,277.07 L346.40,278.50 L346.59,279.35 L346.77,280.52 L346.94,281.63 L347.09,282.58 L347.24,283.97 L347.38,285.31 L347.51,286.39 L347.64,287.80 L347.77,289.24 L347.91,290.35 L348.05,291.11 L348.19,292.25 L348.35,294.05 L348.52,295.49 L348.70,296.31 L348.87,297.03 L349.05,298.35 L349.23,299.84 L349.42,301.26 L349.62,302.78 L349.82,303.83 L350.02,304.79 L350.23,306.15 L350.44,307.61 L350.65,309.24 L350.86,310.55 L351.07,311.47 L351.28,312.65 L351.49,314.00 L351.69,315.36 L351.90,316.26 L352.10,316.73 L352.36,318.11 L352.61,319.74 L352.86,321.09 L353.11,322.34 L353.35,323.71 L353.60,325.34 L353.85,326.46 L354.10,327.40 L354.37,328.72 L354.63,329.72 L354.91,330.64 L355.20,331.67 L355.50,332.44 L356.17,334.39 L356.86,336.42 L357.59,337.49 L358.36,338.13 L359.19,338.94 L360.10,339.32 L361.28,339.86 L362.55,340.34 L363.91,339.87 L365.36,338.99 L366.90,338.35 L367.91,337.82 L368.96,337.37 L370.04,336.91 L371.16,335.88 L372.32,335.21 L373.51,334.89 L374.74,334.50 L376.00,334.27 L377.17,334.16 L378.38,334.54 L379.63,334.90 L380.91,335.05 L382.21,335.30 L383.51,335.55 L384.82,336.06 L386.12,336.43 L387.40,336.44 L388.64,336.63 L389.84,336.96 L391.02,336.93 L392.20,337.07 L393.40,337.58 L394.64,337.80 L395.94,338.17 L397.32,338.49 L398.80,338.22 L399.90,337.99 L401.05,338.37 L402.26,338.87 L403.51,338.96 L404.79,338.98 L406.09,339.44 L407.40,339.77 L408.72,339.55 L410.03,339.69 L411.32,340.14 L412.59,340.01 L413.82,339.71 L415.00,339.76 L416.38,339.70 L417.77,339.46 L419.17,339.41 L420.55,339.57 L421.91,339.65 L423.24,339.46 L424.52,339.55 L425.73,339.83 L426.88,339.55 L427.94,339.02 L428.90,338.76 L430.50,338.46 L431.54,338.27 L432.39,338.37 L433.42,338.60 L435.00,338.43 L435.97,337.72 L437.07,337.32 L438.26,337.35 L439.54,337.13 L440.87,337.21 L442.23,337.51 L443.60,337.47 L444.96,337.51 L446.28,337.67 L447.53,337.94 L448.70,337.72 L450.06,336.98 L451.39,337.05 L452.69,337.63 L453.96,337.57 L455.19,337.38 L456.37,337.59 L457.51,337.57 L458.58,337.18 L459.60,336.69 L460.94,336.04 L462.07,335.40 L463.08,334.85 L464.08,334.56 L465.15,334.15 L466.40,333.89 L467.40,334.14 L468.38,334.39 L469.38,335.08 L470.43,336.26 L471.58,337.32 L472.87,338.24 L474.33,338.81 L476.00,338.87 L477.00,338.81 L478.07,338.89 L479.21,338.78 L480.41,339.02 L481.66,339.46 L482.96,339.49 L484.28,339.17 L485.63,338.75 L487.00,338.70 L488.38,338.48 L489.76,338.19 L491.13,338.51 L492.48,338.57 L493.81,338.25 L495.10,338.20 L496.38,338.02 L497.69,337.98 L499.01,338.10 L500.33,338.16 L501.67,338.73 L503.00,339.05 L504.33,338.95 L505.65,338.99 L506.95,339.00 L508.23,339.19 L509.49,339.46 L510.73,339.68 L511.92,339.83 L513.08,339.70 L514.20,339.18 L515.66,339.18 L517.06,339.78 L518.40,339.87 L519.70,339.42 L520.95,338.91 L522.17,338.81 L523.35,338.81 L524.51,338.92 L525.65,339.41 L526.78,339.59 L527.90,339.41 L529.26,338.91 L530.61,338.06 L531.94,337.61 L533.23,337.44 L534.48,337.04 L535.67,336.84 L536.79,336.80 L537.84,336.56 L538.80,336.32 L540.09,336.95 L541.24,338.15 L542.23,339.38 L543.07,340.71 L543.76,341.75 L544.30,342.90 L544.30,342.90 L544.50,348.80" fill="none" stroke="#0000ee" stroke-width="3.0" stroke-linejoin="round" stroke-linecap="butt" />
<path d="M343.50,347.80 L544.00,347.80" fill="none" stroke="#ff0088" stroke-width="2.4" stroke-linejoin="round" stroke-linecap="butt" />
<path d="M342.40,307.30 L342.40,348.80 L544.30,348.80" fill="none" stroke="#a000f8" stroke-width="3" stroke-linejoin="round" stroke-linecap="butt" />
<g style="fill:#000" class="lg">
<rect x="168.2" y="19.4" width="112.19999999999999" height="157.4" fill="#fff" stroke="#2e2e2e" stroke-width="1.3"/>
<line x1="171.2" y1="28.4" x2="189.8" y2="28.4" stroke="#ff0000" stroke-width="2.6"/>
<text x="191.4" y="32.5" font-size="12.4">Entropic heat</text>
<line x1="171.2" y1="44.9" x2="189.8" y2="44.9" stroke="#ffa000" stroke-width="2.6"/>
<text x="191.4" y="46.1" font-size="11.8">Migration</text><text x="238.4" y="51.699999999999996" font-size="9.2">electrode</text>
<line x1="171.2" y1="63.3" x2="189.8" y2="63.3" stroke="#00ee00" stroke-width="2.6"/>
<text x="191.4" y="64.5" font-size="11.8">Migration</text><text x="238.4" y="70.1" font-size="9.2">electrolyte</text>
<line x1="171.2" y1="81.8" x2="189.8" y2="81.8" stroke="#aaee00" stroke-width="2.6"/>
<text x="191.6" y="84.39999999999999" font-size="12" font-style="italic">η</text><text x="197.6" y="89.39999999999999" font-size="9.2">concentration</text>
<line x1="171.2" y1="101.0" x2="189.8" y2="101.0" stroke="#11eeaa" stroke-width="2.6"/>
<text x="191.6" y="103.6" font-size="12" font-style="italic">η</text><text x="197.6" y="108.6" font-size="9.2">Activation</text>
<line x1="171.2" y1="119.6" x2="189.8" y2="119.6" stroke="#ff0088" stroke-width="2.6"/>
<text x="191.6" y="122.19999999999999" font-size="12" font-style="italic">η</text><text x="197.6" y="127.19999999999999" font-size="9.2">ohmic,SEI</text>
<line x1="171.2" y1="138.2" x2="189.8" y2="138.2" stroke="#10a8f8" stroke-width="2.6"/>
<text x="191.6" y="140.79999999999998" font-size="12" font-style="italic">η</text><text x="197.6" y="145.79999999999998" font-size="9.2">ohmic,CR</text>
<line x1="171.2" y1="154.6" x2="189.8" y2="154.6" stroke="#0000ee" stroke-width="2.6"/>
<text x="191.4" y="158.7" font-size="12.4">Concentration</text>
<line x1="171.2" y1="168.6" x2="189.8" y2="168.6" stroke="#a000f8" stroke-width="2.6"/>
<text x="191.4" y="172.7" font-size="12.4">HOM</text>
</g>
</g>
</svg></body></html>
